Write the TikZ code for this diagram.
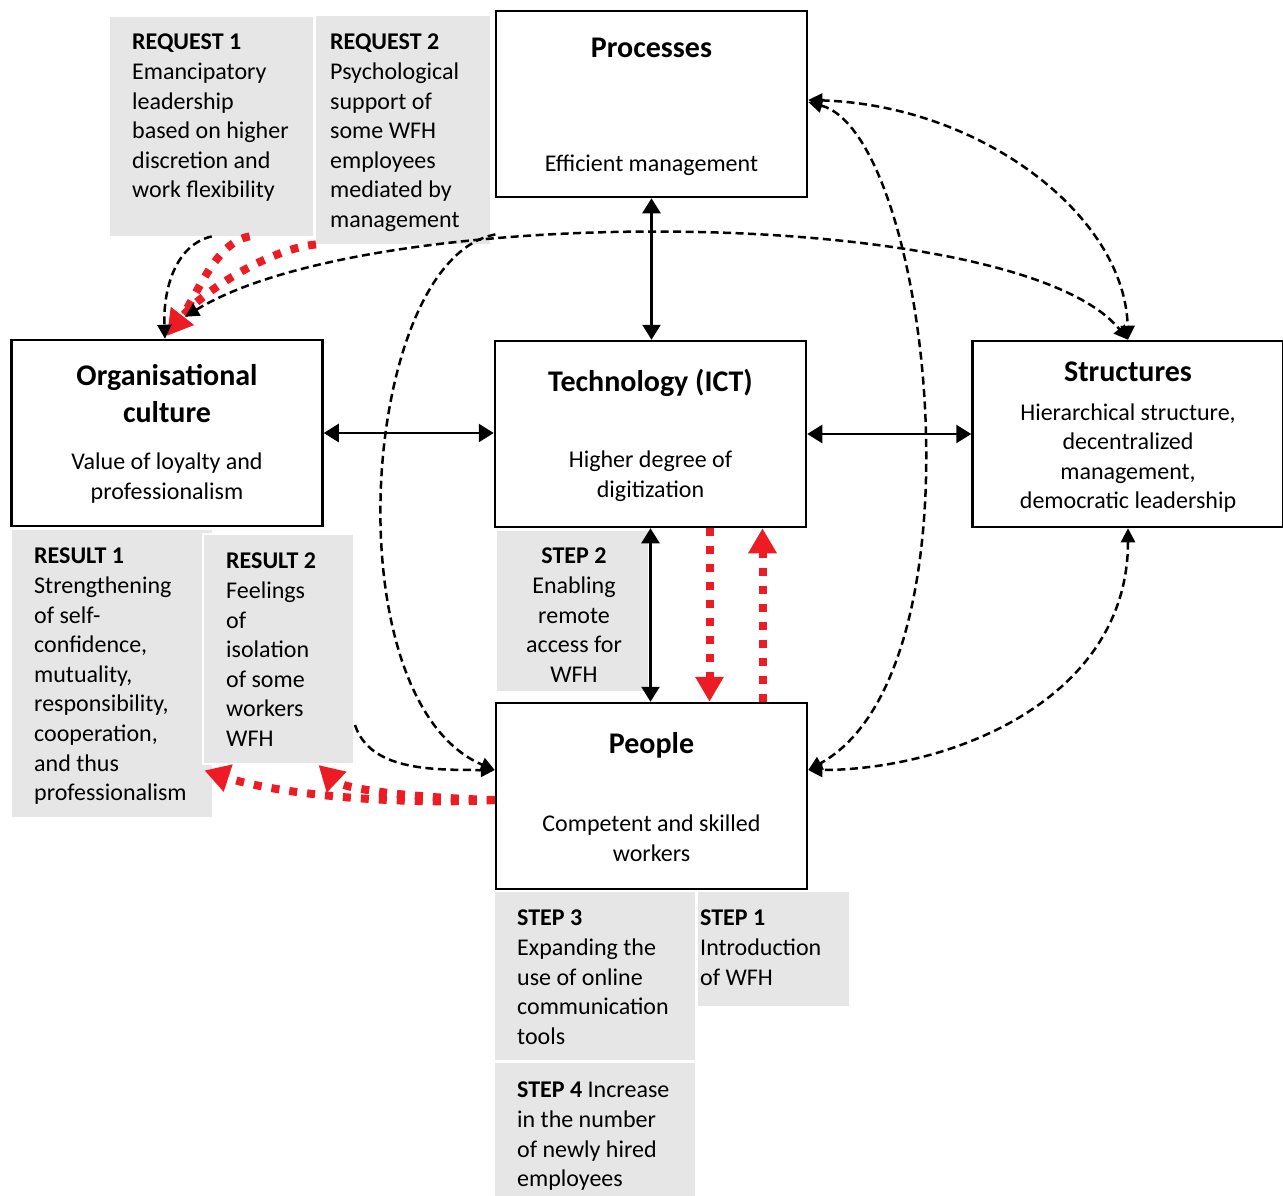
\documentclass[tikz,border=0pt]{standalone}
\usepackage{fontspec}
\setmainfont{Carlito}
\usetikzlibrary{arrows.meta,positioning}
\definecolor{notegray}{RGB}{230,230,230}
\definecolor{wfhred}{RGB}{237,28,36}
\tikzset{
  box/.style={draw, line width=2.5pt, minimum width=311pt, minimum height=186pt, inner sep=0pt},
  note/.style={fill=notegray, inner sep=0pt, anchor=north west},
  head/.style={font=\bfseries\fontsize{30}{37}\selectfont, align=center},
  body/.style={font=\fontsize{24}{29.6}\selectfont, align=center},
  notetext/.style={font=\fontsize{24}{29.6}\selectfont, align=left, anchor=north west, inner sep=0pt},
  solidlink/.style={line width=2.5pt, >={Triangle[width=18pt,length=15pt]}, <->},
  dashlink/.style={line width=2.5pt, dash pattern=on 8pt off 4.5pt, >={Triangle[width=14pt,length=14pt]}},
  redlink/.style={draw=wfhred, line width=8pt, dash pattern=on 8pt off 10pt, >={Triangle[width=27pt,length=25pt]}, ->}
}
\begin{document}
\begin{tikzpicture}[x=1pt, y=-1pt]
\useasboundingbox (0,0) rectangle (1283,1195);

% grey notes
\node[note, minimum width=203pt, minimum height=219pt] (req1) at (110,17) {};
\node[note, minimum width=174pt, minimum height=228pt] (req2) at (316,16) {};
\node[note, minimum width=200pt, minimum height=287pt] (res1) at (12,530) {};
\node[note, draw=white, line width=2pt, minimum width=151pt, minimum height=230pt] (res2) at (202,533) {};
\node[note, minimum width=151pt, minimum height=160pt] (step2) at (497,531) {};
\node[note, minimum width=200pt, minimum height=168pt] (step3) at (495,892) {};
\node[note, minimum width=151pt, minimum height=114pt] (step1) at (698,892) {};
\node[note, minimum width=200pt, minimum height=140pt] (step4) at (495,1063) {};

\node[notetext] (req1txt) at (132,34) {\textbf{REQUEST 1}\\Emancipatory\\leadership\\based on higher\\discretion and\\work flexibility};
\node[notetext] (req2txt) at (330,34) {\textbf{REQUEST 2}\\Psychological\\support of\\some WFH\\employees\\mediated by\\management};
\node[notetext] (res1txt) at (34,548) {\textbf{RESULT 1}\\Strengthening\\of self-\\confidence,\\mutuality,\\responsibility,\\cooperation,\\and thus\\professionalism};
\node[notetext] (res2txt) at (226,553) {\textbf{RESULT 2}\\Feelings\\of\\isolation\\of some\\workers\\WFH};
\node[notetext, anchor=north, align=center] (step2txt) at (574,548) {\textbf{STEP 2}\\Enabling\\remote\\access for\\WFH};
\node[notetext] (step3txt) at (517,910) {\textbf{STEP 3}\\Expanding the\\use of online\\communication\\tools};
\node[notetext] (step1txt) at (700,910) {\textbf{STEP 1}\\Introduction\\of WFH};
\node[notetext] (step4txt) at (517,1082) {\textbf{STEP 4} Increase\\in the number\\of newly hired\\employees};

% main boxes
\node[box] (proc) at (651.5,104) {};
\node[box] (org) at (167,433) {};
\node[box] (tech) at (650.5,434) {};
\node[box] (struct) at (1128,434) {};
\node[box] (people) at (651.5,796) {};

\node[head] (procHead) at (651.5,48) {Processes};
\node[body] (procBody) at (651.5,165) {Efficient management};
\node[head] (orgHead) at (167,393.5) {Organisational\\culture};
\node[body] (orgBody) at (167,478) {Value of loyalty and\\professionalism};
\node[head] (techHead) at (650.5,383) {Technology (ICT)};
\node[body] (techBody) at (650.5,476) {Higher degree of\\digitization};
\node[head] (structHead) at (1128,372) {Structures};
\node[body] (structBody) at (1128,458) {Hierarchical structure,\\decentralized\\management,\\democratic leadership};
\node[head] (peopleHead) at (651.5,745) {People};
\node[body] (peopleBody) at (651.5,838.5) {Competent and skilled\\workers};

\foreach \u/\v in {proc.south/tech.north, tech.south/people.north}
{
    \draw[solidlink] (\u) -- (\u |- \v);
};
\foreach \u/\v in {org.east/tech.west, tech.east/struct.west}
{
    \draw[solidlink] (\u) -- (\u -| \v);
};

\coordinate (orgTop) at ([xshift=18pt,yshift=22pt]org.north);
\coordinate (peopleR) at ([yshift=26pt]people.east);
\coordinate (peopleL) at ([yshift=26pt]people.west);

% red steps
\draw[redlink] ([xshift=59pt]tech.south) -- ([xshift=58pt]people.north);
\draw[redlink] ([xshift=111pt]people.north) -- ([xshift=112pt]tech.south);
\draw[redlink] ([xshift=38pt]req1.south) .. controls (215,242) and (196,298) .. ([yshift=3pt]org.north);
\draw[redlink] (req2.south west) .. controls (265,250) and (200,294) .. ([yshift=3pt]org.north);
\draw[redlink] ([yshift=-4pt]people.west) .. controls (400,805) and (280,795) .. ([xshift=-8pt,yshift=47pt]res1.south east);
\draw[redlink] ([yshift=-4pt]people.west) .. controls (420,798) and (345,790) .. ([xshift=40pt]res2.south);

% dashed links
\draw[dashlink, <->] (orgTop) .. controls (375,200) and (1018,205) .. (struct.north);
\draw[dashlink, <->] ([yshift=4pt]proc.east) .. controls (980,105) and (1125,215) .. (struct.north);
\draw[dashlink, <->] ([yshift=2pt]proc.east) .. controls (930,135) and (990,670) .. (peopleR);
\draw[dashlink, <->] (struct.south) .. controls (1128,700) and (950,770) .. (peopleR);
\draw[dashlink, ->] (req1.south) .. controls (175,245) and (163,290) .. ([xshift=-2pt]org.north);
\draw[dashlink, ->] ([xshift=5pt,yshift=10pt]req2.south east) .. controls (360,260) and (330,700) .. (peopleL);
\draw[dashlink, ->] ([yshift=40pt]res2.south east) .. controls (370,770) and (430,770) .. (peopleL);

\end{tikzpicture}
\end{document}
